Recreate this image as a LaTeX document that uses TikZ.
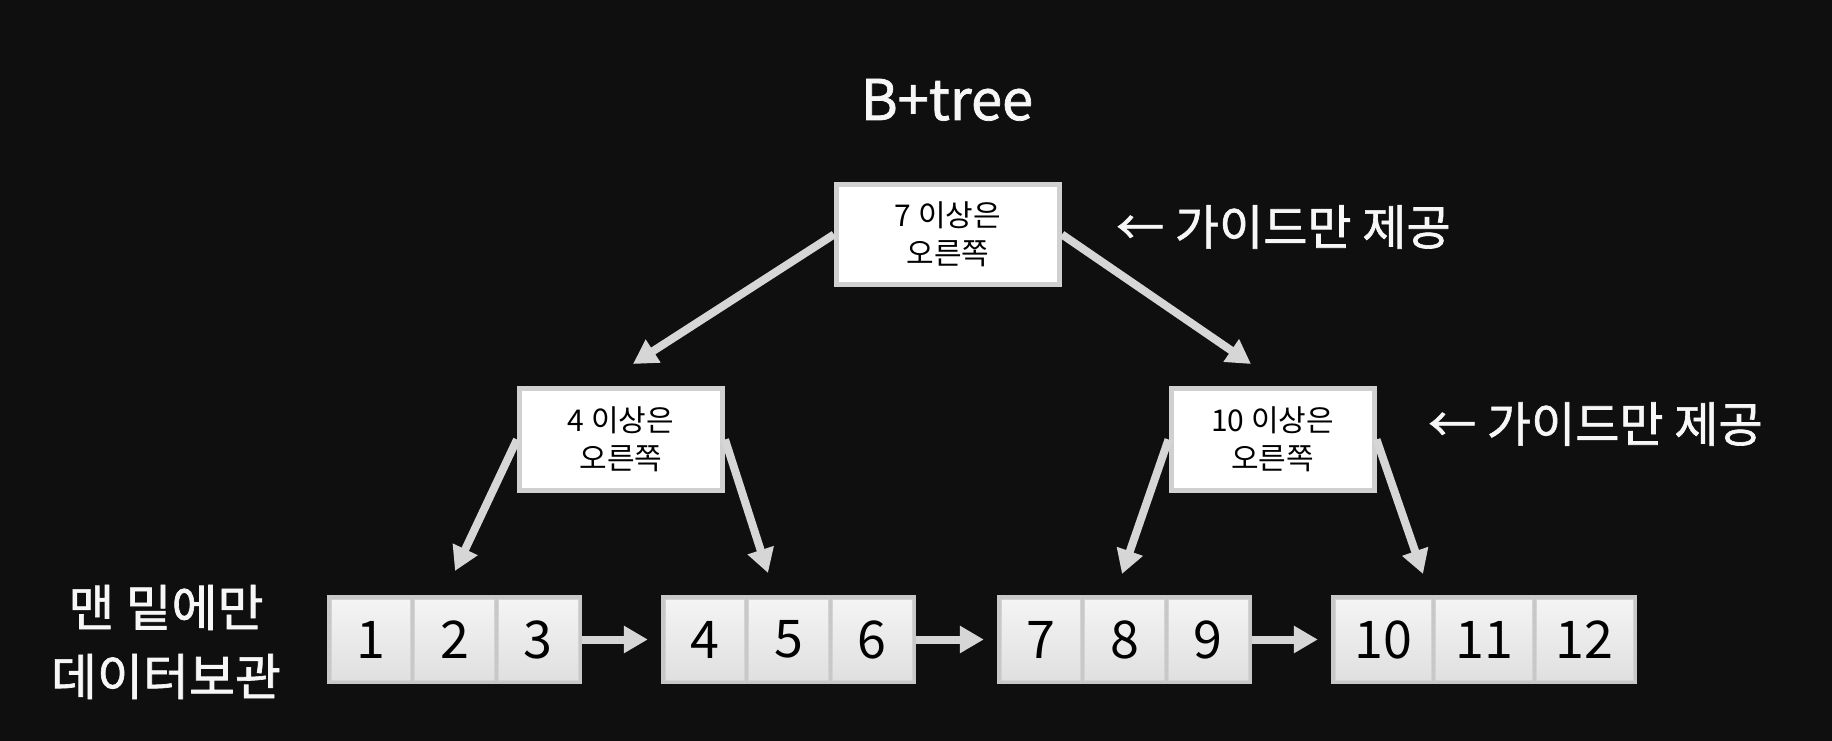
\documentclass[tikz,border=0pt]{standalone}
\usepackage{fontspec}
\setmainfont{Noto Sans CJK KR}
\newfontfamily\medfont[FakeBold=1.3]{Noto Sans CJK KR}
\usetikzlibrary{arrows.meta}
\definecolor{bg}{HTML}{0F0F0F}
\definecolor{arr}{HTML}{D6D6D6}
\definecolor{bord}{HTML}{D0D0D0}
\definecolor{leafb}{HTML}{C8C8C8}
\definecolor{celledge}{HTML}{D4D4D4}
\definecolor{celltop}{HTML}{F4F4F4}
\definecolor{cellbot}{HTML}{E0E0E0}
\definecolor{wtext}{HTML}{F7F7F7}
\begin{document}
\begin{tikzpicture}[x=1pt,y=-1pt,
  guidebox/.style={rectangle, draw=bord, line width=5pt, fill=white, inner sep=0pt,
    align=center, text=black, font=\fontsize{30}{38}\selectfont, minimum height=100pt},
  leafbox/.style={rectangle, fill=leafb, inner sep=0pt, minimum height=89pt},
  cellbox/.style={rectangle, draw=celledge, line width=1pt, top color=celltop,
    bottom color=cellbot, inner sep=0pt, minimum height=81pt, text=black,
    font=\fontsize{52}{52}\selectfont},
  link/.style={draw=arr, line width=8pt, -{Triangle[length=24pt,width=26pt]}},
  wlabel/.style={text=wtext, inner sep=0pt},
]
\useasboundingbox (0,0) rectangle (1832,741);
\fill[bg] (0,0) rectangle (1832,741);

% title
\node[wlabel, font=\medfont\fontsize{56}{56}\selectfont, anchor=base] (title) at (947,120) {B+tree};

% guide nodes
\node[guidebox, minimum width=223pt] (root) at (948,234.5) {7 이상은\\오른쪽};
\node[guidebox, minimum width=203pt, minimum height=102pt] (lm) at (621,439.5) {4 이상은\\오른쪽};
\node[guidebox, minimum width=203pt, minimum height=102pt] (rm) at (1272.5,439.5) {10 이상은\\오른쪽};

% side texts
\node[wlabel, font=\medfont\fontsize{48}{48}\selectfont, anchor=west] (g1) at (1116,227) {← 가이드만 제공};
\node[wlabel, font=\medfont\fontsize{48}{48}\selectfont, anchor=west] (g2) at (1428,424) {← 가이드만 제공};
\node[wlabel, font=\medfont\fontsize{50}{69}\selectfont, align=center] (dl) at (166,642) {맨 밑에만\\데이터보관};

% leaves
\foreach \L/\W/\n/\a/\b/\c in {327/255/1/1/2/3, 661/255/2/4/5/6, 997/255/3/7/8/9, 1331/306/4/10/11/12}{
  \node[leafbox, minimum width=\W pt] (l\n) at ({\L+\W/2},639.5) {};
  \pgfmathsetmacro{\cw}{(\W-16)/3}
  \foreach \i/\t in {1/\a,2/\b,3/\c}{
    \node[cellbox, minimum width=\cw pt] (c\n-\i) at ({\L+4+\cw/2+(\i-1)*(\cw+4)},639.5) {\t};
  }
}

% tips of tree arrows
\coordinate (t1) at (633,364);
\coordinate (t2) at (1251,364);
\coordinate (t3) at (455,571);
\coordinate (t4) at (768,573);
\coordinate (t5) at (1122,574);
\coordinate (t6) at (1423,574);

\draw[link] (root.west) -- (t1);
\draw[link] (root.east) -- (t2);
\draw[link] (lm.west) -- (t3);
\draw[link] (lm.east) -- (t4);
\draw[link] (rm.west) -- (t5);
\draw[link] (rm.east) -- (t6);

\draw[link, shorten >=13pt] (l1.east) -- (l2.west);
\draw[link, shorten >=13pt] (l2.east) -- (l3.west);
\draw[link, shorten >=13pt] (l3.east) -- (l4.west);
\end{tikzpicture}
\end{document}
